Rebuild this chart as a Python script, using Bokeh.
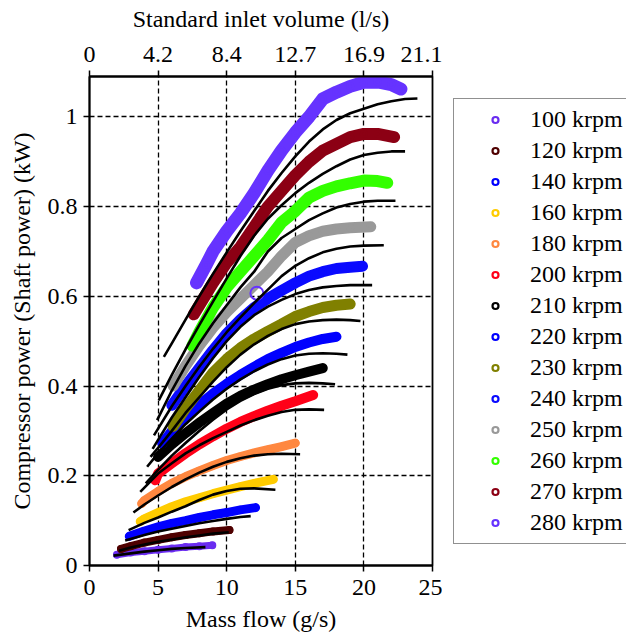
from bokeh.plotting import figure
from bokeh.layouts import row
from bokeh.models import Range1d, LinearAxis, FixedTicker, Legend, LegendItem
from bokeh.embed import file_html
from bokeh.resources import INLINE

# ---- axis ticks -------------------------------------------------------
x_ticks = [0, 5, 10, 15, 20, 25]
x_tick_labels = ["0", "5", "10", "15", "20", "25"]
volume_tick_labels = ["0", "4.2", "8.4", "12.7", "16.9", "21.1"]
y_ticks = [0, 0.2, 0.4, 0.6, 0.8, 1.0]
y_tick_labels = ["0", "0.2", "0.4", "0.6", "0.8", "1"]

speeds = [100, 120, 140, 160, 180, 200, 210, 220, 230, 240, 250, 260, 270, 280]

# ---- measured shaft power (mass flow g/s, power kW) --------------------
flow_100 = [2.0, 3.0, 4.0, 5.0, 6.0, 7.0, 8.0, 8.95]
power_100 = [0.024, 0.029, 0.032, 0.035, 0.038, 0.041, 0.043, 0.045]
flow_120 = [2.3, 3.0, 4.0, 5.0, 6.0, 7.0, 8.0, 9.0, 10.2]
power_120 = [0.037, 0.043, 0.051, 0.057, 0.063, 0.068, 0.072, 0.076, 0.079]
flow_140 = [2.9, 4.0, 5.0, 6.0, 7.0, 8.0, 9.0, 10.0, 11.0, 12.1]
power_140 = [0.065, 0.077, 0.086, 0.094, 0.1, 0.107, 0.113, 0.118, 0.124, 0.129]
flow_160 = [3.7, 4.0, 5.0, 6.0, 7.0, 8.0, 9.0, 10.0, 11.0, 12.0, 13.4]
power_160 = [0.098, 0.104, 0.118, 0.131, 0.142, 0.151, 0.16, 0.168, 0.176, 0.183, 0.192]
flow_180 = [3.8, 4.0, 5.0, 6.0, 7.0, 8.0, 9.0, 10.0, 11.0, 12.0, 13.0, 14.0, 15.0]
power_180 = [0.138, 0.145, 0.165, 0.183, 0.198, 0.211, 0.223, 0.234, 0.243, 0.251, 0.258, 0.265, 0.273]
flow_200 = [4.8, 5.0, 6.0, 7.0, 8.0, 9.0, 10.0, 11.0, 12.0, 13.0, 14.0, 15.0, 16.3]
power_200 = [0.19, 0.205, 0.228, 0.25, 0.27, 0.288, 0.305, 0.32, 0.333, 0.345, 0.356, 0.366, 0.38]
flow_210 = [5.0, 6.0, 7.0, 8.0, 9.0, 10.0, 11.0, 12.0, 13.0, 14.0, 15.0, 16.0, 17.0]
power_210 = [0.242, 0.27, 0.295, 0.318, 0.34, 0.361, 0.378, 0.392, 0.404, 0.415, 0.424, 0.432, 0.44]
flow_220 = [5.3, 6.0, 7.0, 8.0, 9.0, 10.0, 11.0, 12.0, 13.0, 14.0, 15.0, 16.0, 17.0, 18.0]
power_220 = [0.272, 0.3, 0.33, 0.358, 0.383, 0.405, 0.425, 0.443, 0.46, 0.474, 0.487, 0.497, 0.505, 0.51]
flow_230 = [6.1, 7.0, 8.0, 9.0, 10.0, 11.0, 12.0, 13.0, 14.0, 15.0, 16.0, 17.0, 18.0, 19.0]
power_230 = [0.31, 0.35, 0.39, 0.43, 0.46, 0.485, 0.505, 0.522, 0.538, 0.555, 0.566, 0.575, 0.58, 0.583]
flow_240 = [6.0, 7.0, 8.0, 9.0, 10.0, 11.0, 12.0, 13.0, 14.0, 15.0, 16.0, 17.0, 18.0, 19.0, 19.9]
power_240 = [0.357, 0.4, 0.44, 0.48, 0.517, 0.548, 0.575, 0.595, 0.613, 0.63, 0.645, 0.655, 0.662, 0.665, 0.667]
flow_250 = [6.1, 7.0, 8.0, 9.0, 10.0, 11.0, 12.0, 13.0, 14.0, 15.0, 16.0, 17.0, 18.0, 19.0, 20.5]
power_250 = [0.4, 0.445, 0.49, 0.53, 0.565, 0.595, 0.625, 0.655, 0.69, 0.72, 0.735, 0.745, 0.75, 0.753, 0.755]
flow_260 = [7.5, 8.0, 9.0, 10.0, 11.0, 12.0, 13.0, 14.0, 15.0, 16.0, 17.0, 18.0, 19.0, 20.0, 21.0, 21.7]
power_260 = [0.49, 0.52, 0.575, 0.62, 0.655, 0.69, 0.725, 0.765, 0.79, 0.82, 0.835, 0.845, 0.852, 0.858, 0.857, 0.853]
flow_270 = [7.6, 8.0, 9.0, 10.0, 11.0, 12.0, 13.0, 14.0, 15.0, 16.0, 17.0, 18.0, 19.0, 20.0, 21.0, 22.2]
power_270 = [0.56, 0.58, 0.63, 0.675, 0.71, 0.755, 0.8, 0.835, 0.87, 0.9, 0.925, 0.94, 0.955, 0.962, 0.962, 0.955]
flow_280 = [7.8, 8.5, 9.0, 10.0, 11.0, 12.0, 13.0, 14.0, 15.0, 16.0, 17.0, 18.0, 19.0, 20.0, 21.0, 22.0, 22.7]
power_280 = [0.63, 0.67, 0.7, 0.745, 0.785, 0.83, 0.88, 0.925, 0.965, 1.0, 1.04, 1.055, 1.068, 1.077, 1.078, 1.072, 1.062]

# single stray 280 krpm reading
stray_flow = [12.2]
stray_power = [0.607]

# ---- model curves --------------------------------------------------------
fit_flow_100 = [1.75, 3.0, 4.0, 5.0, 6.0, 7.0, 8.45]
fit_power_100 = [0.022, 0.027, 0.031, 0.034, 0.037, 0.039, 0.041]
fit_flow_120 = [2.15, 3.0, 4.0, 5.0, 6.0, 7.0, 8.0, 9.0, 10.15]
fit_power_120 = [0.033, 0.04, 0.047, 0.053, 0.058, 0.063, 0.067, 0.071, 0.074]
fit_flow_140 = [2.6, 4.0, 5.0, 6.0, 7.0, 8.0, 9.0, 10.0, 11.0, 11.75]
fit_power_140 = [0.056, 0.068, 0.076, 0.082, 0.088, 0.094, 0.099, 0.104, 0.108, 0.11]
fit_flow_160 = [2.85, 4.0, 5.0, 6.0, 7.0, 8.0, 9.0, 10.0, 11.0, 12.0, 13.55]
fit_power_160 = [0.079, 0.095, 0.107, 0.12, 0.132, 0.146, 0.158, 0.166, 0.171, 0.172, 0.169]
fit_flow_180 = [3.2, 4.0, 5.0, 6.0, 7.0, 8.0, 9.0, 10.0, 11.0, 12.0, 13.0, 14.0, 15.35]
fit_power_180 = [0.118, 0.136, 0.156, 0.175, 0.192, 0.207, 0.22, 0.231, 0.239, 0.245, 0.248, 0.249, 0.248]
fit_flow_200 = [3.7, 5.0, 6.0, 7.0, 8.0, 9.0, 10.0, 11.0, 12.0, 13.0, 14.0, 15.0, 16.0, 17.1]
fit_power_200 = [0.164, 0.205, 0.228, 0.25, 0.268, 0.284, 0.298, 0.312, 0.324, 0.334, 0.342, 0.347, 0.348, 0.347]
fit_flow_210 = [4.1, 5.0, 6.0, 7.0, 8.0, 9.0, 10.0, 11.0, 12.0, 13.0, 14.0, 15.0, 16.0, 17.0, 17.9]
fit_power_210 = [0.183, 0.213, 0.245, 0.273, 0.3, 0.325, 0.348, 0.367, 0.382, 0.394, 0.402, 0.406, 0.407, 0.406, 0.404]
fit_flow_220 = [4.2, 5.0, 6.0, 7.0, 8.0, 9.0, 10.0, 11.0, 12.0, 13.0, 14.0, 15.0, 16.0, 17.0, 18.0, 18.8]
fit_power_220 = [0.22, 0.25, 0.283, 0.315, 0.343, 0.37, 0.394, 0.415, 0.433, 0.448, 0.46, 0.468, 0.472, 0.473, 0.472, 0.47]
fit_flow_230 = [4.45, 5.0, 6.0, 7.0, 8.0, 9.0, 10.0, 11.0, 12.0, 13.0, 14.0, 15.0, 16.0, 17.0, 18.0, 19.0, 19.75]
fit_power_230 = [0.242, 0.262, 0.3, 0.34, 0.375, 0.41, 0.442, 0.47, 0.493, 0.512, 0.527, 0.538, 0.544, 0.547, 0.548, 0.547, 0.545]
fit_flow_240 = [4.6, 5.0, 6.0, 7.0, 8.0, 9.0, 10.0, 11.0, 12.0, 13.0, 14.0, 15.0, 16.0, 17.0, 18.0, 19.0, 20.6]
fit_power_240 = [0.26, 0.28, 0.33, 0.375, 0.42, 0.462, 0.5, 0.532, 0.558, 0.577, 0.592, 0.605, 0.614, 0.62, 0.623, 0.625, 0.625]
fit_flow_250 = [4.7, 5.0, 6.0, 7.0, 8.0, 9.0, 10.0, 11.0, 12.0, 13.0, 14.0, 15.0, 16.0, 17.0, 18.0, 19.0, 20.0, 21.45]
fit_power_250 = [0.29, 0.305, 0.355, 0.4, 0.443, 0.483, 0.52, 0.553, 0.585, 0.615, 0.645, 0.668, 0.685, 0.698, 0.706, 0.711, 0.713, 0.714]
fit_flow_260 = [4.93, 6.0, 7.0, 8.0, 9.0, 10.0, 11.0, 12.0, 13.0, 14.0, 15.0, 16.0, 17.0, 18.0, 19.0, 20.0, 21.0, 22.3]
fit_power_260 = [0.324, 0.39, 0.445, 0.495, 0.54, 0.58, 0.62, 0.655, 0.7, 0.73, 0.75, 0.77, 0.785, 0.798, 0.806, 0.811, 0.813, 0.813]
fit_flow_270 = [5.05, 6.0, 7.0, 8.0, 9.0, 10.0, 11.0, 12.0, 13.0, 14.0, 15.0, 16.0, 17.0, 18.0, 19.0, 20.0, 21.0, 22.0, 23.0]
fit_power_270 = [0.368, 0.425, 0.482, 0.536, 0.588, 0.64, 0.69, 0.735, 0.773, 0.803, 0.83, 0.853, 0.873, 0.89, 0.905, 0.915, 0.92, 0.923, 0.923]
fit_flow_280 = [5.42, 6.0, 7.0, 8.0, 9.0, 10.0, 11.0, 12.0, 13.0, 14.0, 15.0, 16.0, 17.0, 18.0, 19.0, 20.0, 21.0, 22.0, 23.0, 23.9]
fit_power_280 = [0.465, 0.495, 0.548, 0.6, 0.65, 0.698, 0.745, 0.79, 0.835, 0.875, 0.912, 0.945, 0.972, 0.993, 1.008, 1.018, 1.028, 1.035, 1.04, 1.041]

measured = {
    100: (flow_100, power_100), 120: (flow_120, power_120), 140: (flow_140, power_140),
    160: (flow_160, power_160), 180: (flow_180, power_180), 200: (flow_200, power_200),
    210: (flow_210, power_210), 220: (flow_220, power_220), 230: (flow_230, power_230),
    240: (flow_240, power_240), 250: (flow_250, power_250), 260: (flow_260, power_260),
    270: (flow_270, power_270), 280: (flow_280, power_280),
}
model = {
    100: (fit_flow_100, fit_power_100), 120: (fit_flow_120, fit_power_120),
    140: (fit_flow_140, fit_power_140), 160: (fit_flow_160, fit_power_160),
    180: (fit_flow_180, fit_power_180), 200: (fit_flow_200, fit_power_200),
    210: (fit_flow_210, fit_power_210), 220: (fit_flow_220, fit_power_220),
    230: (fit_flow_230, fit_power_230), 240: (fit_flow_240, fit_power_240),
    250: (fit_flow_250, fit_power_250), 260: (fit_flow_260, fit_power_260),
    270: (fit_flow_270, fit_power_270), 280: (fit_flow_280, fit_power_280),
}

# ---- styling -------------------------------------------------------------
colors = {
    100: "#6a2cf0", 120: "#4f0000", 140: "#0000ff", 160: "#ffcc00", 180: "#ff8840",
    200: "#ff0018", 210: "#000000", 220: "#0000ff", 230: "#808000", 240: "#0a0aff",
    250: "#999999", 260: "#33ff00", 270: "#8c0014", 280: "#6633ff",
}
band_width = {
    100: 7, 120: 8, 140: 9, 160: 9, 180: 9, 200: 10, 210: 10, 220: 10,
    230: 11, 240: 11, 250: 11, 260: 12, 270: 12, 280: 13,
}
FONT = "Liberation Serif"
FS = "24px"
H = 635

p = figure(
    width=442, height=H,
    x_range=Range1d(0, 25), y_range=Range1d(0, 1.09),
    output_backend="svg", toolbar_location=None,
    min_border_left=89, min_border_right=10,
    min_border_top=76, min_border_bottom=70,
    background_fill_color="white", border_fill_color="white",
)
p.outline_line_color = "black"
p.outline_line_width = 1.8

def style_axis(ax):
    ax.axis_line_width = 1.8
    ax.axis_line_color = "black"
    ax.major_tick_line_width = 1.5
    ax.major_tick_line_color = "black"
    ax.major_tick_out = 6
    ax.major_tick_in = 0
    ax.minor_tick_line_color = None
    ax.major_label_text_font = FONT
    ax.major_label_text_font_size = FS
    ax.major_label_text_color = "black"
    ax.axis_label_text_font = FONT
    ax.axis_label_text_font_size = FS
    ax.axis_label_text_font_style = "normal"
    ax.axis_label_text_color = "black"

xa = p.xaxis[0]
xa.ticker = FixedTicker(ticks=x_ticks)
xa.major_label_overrides = dict(zip(x_ticks, x_tick_labels))
xa.axis_label = "Mass flow (g/s)"
style_axis(xa)
xa.major_label_standoff = 8
xa.axis_label_standoff = 8

ya = p.yaxis[0]
ya.ticker = FixedTicker(ticks=y_ticks)
ya.major_label_overrides = dict(zip(y_ticks, y_tick_labels))
ya.axis_label = "Compressor power (Shaft power) (kW)"
style_axis(ya)
ya.major_label_standoff = 6
ya.axis_label_standoff = 10

top = LinearAxis(ticker=FixedTicker(ticks=x_ticks),
                 major_label_overrides=dict(zip(x_ticks, volume_tick_labels)),
                 axis_label="Standard inlet volume (l/s)")
style_axis(top)
top.major_label_standoff = 9
top.axis_label_standoff = 12
p.add_layout(top, "above")

for g in (p.xgrid[0], p.ygrid[0]):
    g.grid_line_color = "black"
    g.grid_line_dash = "5 3"
    g.grid_line_width = 1.3

# measured bands, model curves on top
for s in speeds:
    fx, fy = measured[s]
    p.line(fx, fy, line_width=band_width[s], line_color=colors[s],
           line_cap="round", line_join="round")
    p.scatter(fx, fy, marker="circle", size=6, line_width=2,
              line_color=colors[s], fill_color=None)

p.scatter(stray_flow, stray_power, marker="circle", size=13, line_width=2,
          line_color=colors[280], fill_color=None)

for s in speeds:
    mx, my = model[s]
    p.line(mx, my, line_width=2.6, line_color="black", line_join="round")

# key panel: a bare plot holding only the legend (its range shows no data)
key = figure(
    width=626 - 442, height=H,
    x_range=Range1d(-2, -1), y_range=Range1d(-2, -1),
    x_axis_type=None, y_axis_type=None,
    output_backend="svg", toolbar_location=None,
    min_border=0, background_fill_color="white", border_fill_color="white",
)
key.outline_line_color = None
key.xgrid.visible = False
key.ygrid.visible = False

legend_items = []
for s in speeds:
    fx, fy = measured[s]
    r = key.scatter(fx, fy, marker="circle", size=5, line_width=2.2,
                    line_color=colors[s], fill_color=None)
    legend_items.append(LegendItem(label=f"{s} krpm", renderers=[r]))

legend = Legend(
    items=legend_items, location=(11, 21),
    label_text_font=FONT, label_text_font_size=FS, label_text_color="black",
    glyph_width=68, glyph_height=15, label_height=25,
    spacing=4, padding=7, margin=0, label_standoff=1,
    border_line_color="#222222", border_line_width=1.5,
    background_fill_color="white", background_fill_alpha=1.0,
)
key.add_layout(legend)

layout = row(p, key, spacing=0)
open("out.html", "w").write(file_html(layout, INLINE))
